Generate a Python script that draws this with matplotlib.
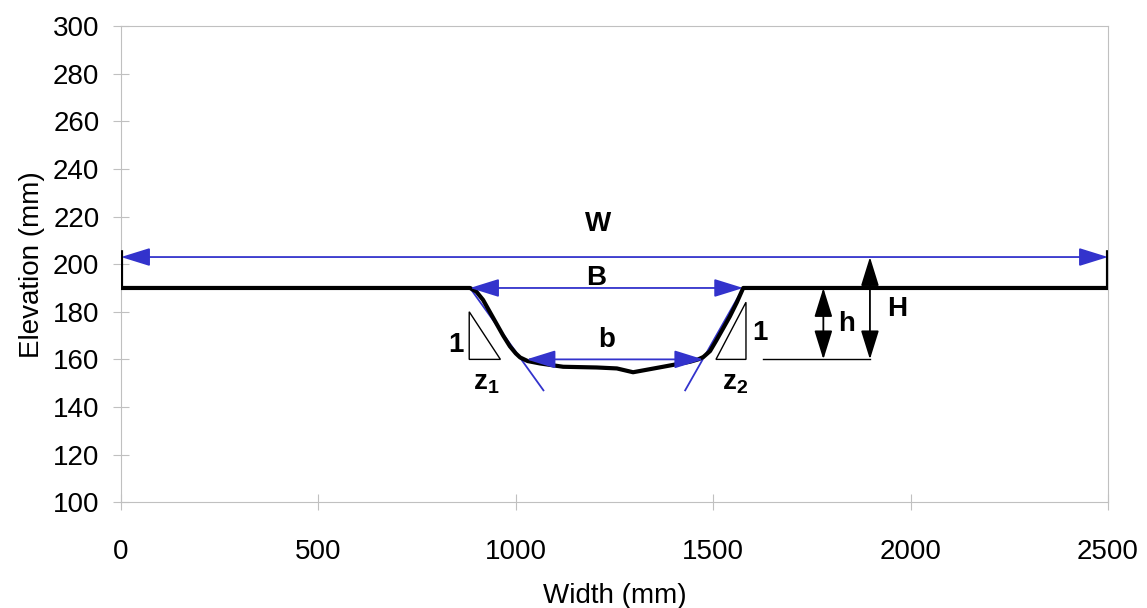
import matplotlib.pyplot as plt
from matplotlib.patches import Polygon

plt.rcParams['font.family'] = ['Liberation Sans', 'DejaVu Sans']
plt.rcParams['font.size'] = 20
plt.rcParams['mathtext.fontset'] = 'custom'
plt.rcParams['mathtext.rm'] = 'Liberation Sans'
plt.rcParams['mathtext.bf'] = 'Liberation Sans:bold'

# channel cross-section profile (mm)
profile_x = [0, 0, 884, 900, 917, 934, 951, 968, 985, 1000, 1011, 1030, 1061, 1120,
             1205, 1256, 1297, 1373, 1441, 1462, 1475, 1492, 1508, 1525, 1542, 1560,
             1576, 2500, 2500]
profile_y = [205, 190, 190, 188.5, 185, 180, 175, 170, 165.5, 162.5, 160.8, 159.3,
             158.3, 156.9, 156.6, 156.2, 154.6, 156.9, 159, 160, 161, 163.5, 168,
             173, 178, 184, 190, 190, 205]

# dimension lines: (x0, y0, x1, y1, label, label_x, label_y)
blue_dims = [
    (0, 203, 2500, 203, 'W', 1208, 217),
    (884, 190, 1576, 190, 'B', 1203, 194),
    (1027, 160, 1475, 160, 'b', 1229, 168),
]
black_dims = [
    (1779, 190, 1779, 160, 'h', 1838, 175),
    (1897, 203, 1897, 160, 'H', 1965, 181),
]

# side slope lines
slope_left = ([884, 1070], [190, 147])
slope_right = ([1576, 1429], [190, 147])

# slope triangles and labels
tri_left = [(882, 180), (882, 160), (961, 160)]
tri_right = [(1583, 184), (1583, 160), (1507, 160)]
slope_labels = [('1', 848, 166), ('1', 1619, 171),
                (r'$\mathbf{z_1}$', 926, 150), (r'$\mathbf{z_2}$', 1555, 150)]

blue = '#3333cc'
grey = '#c0c0c0'
arrow = '<|-|>,head_length=0.9,head_width=0.28'

fig, ax = plt.subplots(figsize=(11.47, 6.08), dpi=100)
fig.subplots_adjust(left=0.1055, right=0.966, top=0.957, bottom=0.174)

ax.plot(profile_x, profile_y, color='black', lw=3, solid_joinstyle='round', zorder=3)

for x0, y0, x1, y1, lab, lx, ly in blue_dims:
    ax.annotate('', xy=(x1, y1), xytext=(x0, y0),
                arrowprops=dict(arrowstyle=arrow, color=blue, lw=1.3,
                                shrinkA=0, shrinkB=0), zorder=4)
    ax.text(lx, ly, lab, ha='center', va='center', fontweight='bold')

for x0, y0, x1, y1, lab, lx, ly in black_dims:
    ax.annotate('', xy=(x1, y1), xytext=(x0, y0),
                arrowprops=dict(arrowstyle=arrow, color='black', lw=1.3,
                                shrinkA=0, shrinkB=0), zorder=4)
    ax.text(lx, ly, lab, ha='center', va='center', fontweight='bold')

ax.plot([1625, 1897], [160, 160], color='black', lw=1)

ax.plot(*slope_left, color=blue, lw=1.3)
ax.plot(*slope_right, color=blue, lw=1.3)

for tri in (tri_left, tri_right):
    ax.add_patch(Polygon(tri, closed=True, fill=False, edgecolor='black', lw=1))
for lab, lx, ly in slope_labels:
    ax.text(lx, ly, lab, ha='center', va='center', fontweight='bold')

ax.set_xlim(0, 2500)
ax.set_ylim(100, 300)
ax.set_xticks(range(0, 2501, 500))
ax.set_yticks(range(100, 301, 20))
ax.set_xlabel('Width (mm)', labelpad=13)
ax.set_ylabel('Elevation (mm)', labelpad=6)
for s in ax.spines.values():
    s.set_color(grey)
ax.tick_params(direction='inout', length=11, color=grey, labelsize=20)
ax.tick_params(axis='x', pad=21)
ax.tick_params(axis='y', pad=10)

plt.savefig('out.png', dpi=100)
